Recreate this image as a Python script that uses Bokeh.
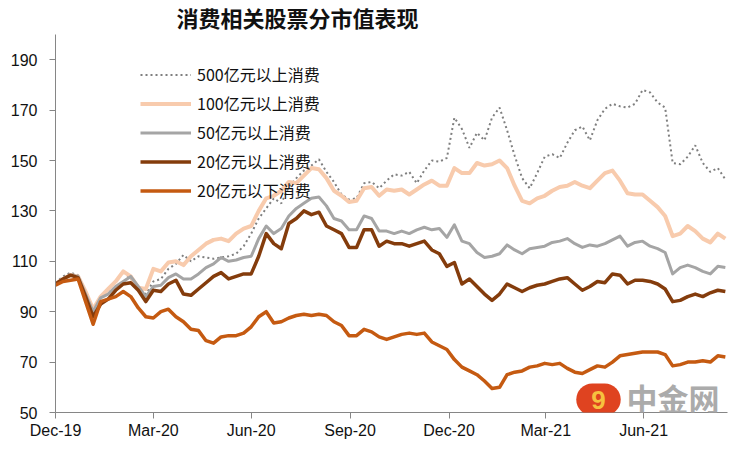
import pandas as pd
from bokeh.plotting import figure
from bokeh.models import (FixedTicker, DatetimeTickFormatter, Legend, LegendItem,
                          Label, Range1d)
from bokeh.embed import file_html
from bokeh.resources import INLINE

# ---------------- data (weekly readings, index = 100 at end of Dec-2019) ----------------
dates = pd.date_range("2019-12-31", periods=90, freq="7D")

cap500 = [101.5, 104, 105.5, 104.5, 98, 90.5, 96, 98.5, 102, 106,
          103, 100, 97, 102, 103, 107, 109, 112.5, 110, 112,
          111.5, 111, 111.5, 112, 113, 116, 121, 127, 131, 135,
          133, 139.5, 143, 146, 148, 150.5, 145.5, 141.5, 136.5, 134.5,
          135, 141, 141.5, 139, 142, 144.5, 144, 145.5, 141, 146,
          150, 149.5, 151, 167, 162.5, 155, 161, 158, 167, 171,
          162, 152, 143, 139, 145, 151.5, 152.5, 151, 157, 162,
          163.5, 158, 166, 170.5, 172.5, 171.5, 171, 172.5, 178, 177,
          173, 171, 149, 148.5, 151.5, 156, 149, 145.5, 147, 142.5]

cap100 = [101, 103, 104.5, 104, 98, 91, 96, 99, 102, 106,
          104, 99.5, 99, 107, 106, 109.5, 110, 108.5, 112, 114.5,
          117, 118.5, 119, 118, 121, 123, 124, 130, 135, 136,
          138, 141.5, 141, 144, 147, 146.5, 143, 138, 136, 133.5,
          134, 139, 139.5, 136, 138.5, 138, 138.5, 136.5, 138.5, 140.5,
          142, 140, 140, 147, 145, 145, 149, 148, 148.5, 150,
          147, 140, 134, 133, 135, 136, 138, 139.5, 140, 141.5,
          140, 139, 142, 145, 146, 142, 137, 136.5, 136.5, 134,
          131.5, 128, 120, 121, 124, 122, 119, 117.5, 121, 119]

cap50 = [101, 103, 104.5, 104, 97, 90, 95.5, 97, 100, 102,
         104, 100, 96, 100, 100.5, 103.5, 105, 103, 103, 105,
         107.5, 109, 111.5, 110, 110.5, 111.5, 112, 119, 124, 121,
         123, 128, 131, 133, 135, 135.5, 132, 127, 126, 122.5,
         122.5, 128, 127, 122, 122, 121, 122, 121, 122.5, 123.5,
         122.5, 123, 119.5, 124.5, 118, 117, 113.5, 111.5, 112, 113,
         116.5, 114.5, 113, 115, 115.5, 116, 117.5, 118, 119, 117,
         115.5, 116.5, 116, 117, 118.5, 120, 116, 117.5, 118, 116,
         115, 113.5, 105, 107.5, 108.5, 107.5, 106, 105, 108, 107.5]

cap20_up = [101, 103, 104.5, 103.5, 96, 88, 93, 95, 98.5, 101,
            101.5, 98.5, 94, 98.5, 98, 101, 102.5, 97, 96.5, 99,
            101.5, 104, 105.5, 103, 104, 105, 105, 112, 121, 117,
            115, 125, 127, 130, 128.5, 129.5, 124, 122.5, 121, 115.5,
            115.5, 122.5, 122.5, 116, 118, 117, 117, 116, 117, 118,
            114.5, 113, 108, 109.5, 101, 103, 100, 97, 94.5, 97,
            101, 99.5, 98, 99.5, 100.5, 101, 102, 103, 103.5, 101,
            98.5, 100, 102, 101.5, 105, 104.5, 101, 102.5, 102.5, 102,
            101, 99, 94, 94.5, 96, 97, 96, 97.5, 98.5, 98]

cap20_down = [100.5, 102, 102.5, 103, 94, 85, 94, 95, 96, 98,
              96, 91.5, 88, 87.5, 90, 91, 88, 86, 83, 82.5,
              78.5, 77.5, 80, 80.5, 80.5, 81.5, 84, 88, 90, 85.5,
              86, 87.5, 88.5, 89, 88.5, 89, 88.5, 86, 84.5, 80.5,
              80.5, 83, 82, 80, 79, 80, 81, 81.5, 81, 81.5,
              78, 76.5, 75, 71, 68, 66.5, 65, 62.5, 59.5, 60,
              65, 66, 66.5, 68, 68.5, 69.5, 69, 69.5, 67.5, 66,
              65.5, 67, 68.5, 68, 70, 72.5, 73, 73.5, 74, 74,
              74, 73, 68.5, 69, 70, 70, 70.5, 70, 72.5, 72]

series_names = ["500亿元以上消费", "100亿元以上消费", "50亿元以上消费",
                "20亿元以上消费", "20亿元以下消费"]
tick_dates = ["2019-12-31", "2020-03-31", "2020-06-30", "2020-09-30",
              "2020-12-31", "2021-03-31", "2021-06-30"]
y_ticks = [50, 70, 90, 110, 130, 150, 170, 190]
title_text = "消费相关股票分市值表现"

# ---------------- figure ----------------
x0 = pd.Timestamp("2019-12-31")
p = figure(width=732, height=449, output_backend="svg", toolbar_location=None,
           x_axis_type="datetime",
           x_range=Range1d(x0, x0 + pd.Timedelta(days=625)),
           y_range=Range1d(50, 200),
           min_border_left=55, min_border_right=5,
           min_border_top=34, min_border_bottom=37)
p.outline_line_color = None
p.xgrid.visible = False
p.ygrid.visible = False
p.background_fill_color = "white"
p.border_fill_color = "white"

p.title.text = title_text
p.title.text_font = "Noto Sans CJK SC"
p.title.text_font_size = "22px"
p.title.text_font_style = "bold"
p.title.text_color = "#111111"
p.title.align = "left"
p.title.vertical_align = "top"
p.title.offset = 121
p.title.standoff = 0

axis_col = "#868686"
for ax in (p.xaxis[0], p.yaxis[0]):
    ax.axis_line_color = axis_col
    ax.major_tick_line_color = axis_col
    ax.minor_tick_line_color = None
    ax.major_tick_in = 0
    ax.major_tick_out = 6
    ax.major_label_text_font = "Liberation Sans"
    ax.major_label_text_font_size = "16px"
    ax.major_label_text_color = "#111111"

p.yaxis[0].ticker = FixedTicker(ticks=y_ticks)
p.yaxis[0].major_label_standoff = 12
p.xaxis[0].ticker = FixedTicker(ticks=[pd.Timestamp(d).value / 1e6 for d in tick_dates])
fmt = "%b-%y"
p.xaxis[0].formatter = DatetimeTickFormatter(days=fmt, months=fmt, years=fmt,
                                             hours=fmt, minutes=fmt)
p.xaxis[0].major_label_standoff = 3

r500 = p.line(dates, cap500, line_color="#7F7F7F", line_width=2, line_dash="2 3")
r100 = p.line(dates, cap100, line_color="#F8CBAD", line_width=4, line_join="round")
r50 = p.line(dates, cap50, line_color="#A5A5A5", line_width=3, line_join="round")
r20u = p.line(dates, cap20_up, line_color="#843C0C", line_width=3.5, line_join="round")
r20d = p.line(dates, cap20_down, line_color="#C55A11", line_width=3.5, line_join="round")

renderers = [r500, r100, r50, r20u, r20d]
legend = Legend(items=[LegendItem(label=n, renderers=[r]) for n, r in zip(series_names, renderers)],
                location=(85, 210), padding=0, margin=0, spacing=5,
                glyph_width=51, glyph_height=23, label_height=23, label_standoff=6,
                label_text_font="Noto Sans CJK SC", label_text_font_size="16px",
                label_text_color="#111111",
                background_fill_alpha=0, border_line_color=None)
p.add_layout(legend)

# ---------------- watermark (canvas units) ----------------
p.add_layout(Label(x=598, y=399, x_units="canvas", y_units="canvas", text="9",
                   text_font="Liberation Sans", text_font_size="26px", text_font_style="bold",
                   text_color="#F6C13F", text_align="center", text_baseline="middle",
                   background_fill_color="#DF4320", border_radius=22,
                   padding=dict(left=15, right=15, top=7, bottom=7)))
p.add_layout(Label(x=626, y=397, x_units="canvas", y_units="canvas", text="中金网",
                   text_font="Noto Sans CJK SC", text_font_size="31px", text_font_style="bold",
                   text_color="#ABABAB", text_align="left", text_baseline="middle"))

open("out.html", "w").write(file_html(p, INLINE))
